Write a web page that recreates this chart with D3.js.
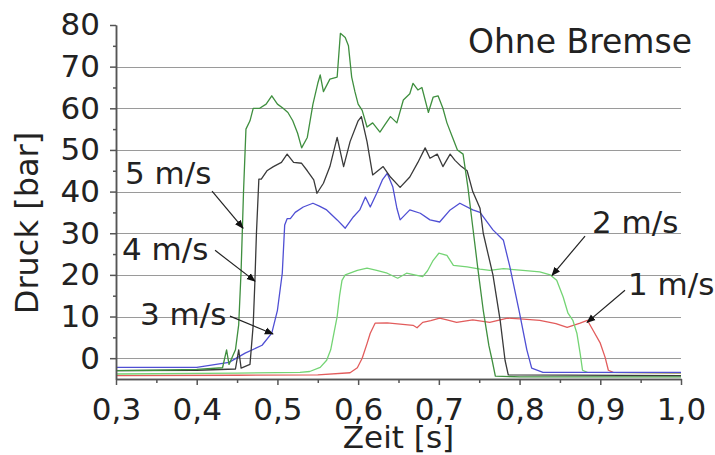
<!DOCTYPE html>
<meta charset="utf-8">
<style>
body { margin: 0; background: #fff; }
svg text { font-family: "DejaVu Sans", sans-serif; fill: #222; }
.grid line { stroke: #9a9a9a; stroke-width: 1px; shape-rendering: crispEdges; }
.grid path { display: none; }
.axis path, .axis line { stroke: #555; stroke-width: 1.5px; }
.axis text { font-size: 31px; }
.line { fill: none; stroke-width: 1.3px; stroke-linejoin: round; }
.label { font-size: 31px; }
</style>
<body>
<script src="https://d3js.org/d3.v7.min.js"></script>
<script>

// tick values
var xTicks = [0.3, 0.4, 0.5, 0.6, 0.7, 0.8, 0.9, 1.0];
var xMinor = [0.35, 0.45, 0.55, 0.65, 0.75, 0.85, 0.95];
var yTicks = [0, 10, 20, 30, 40, 50, 60, 70, 80];
var yMinor = [5, 15, 25, 35, 45, 55, 65, 75];
var gridTicks = [0, 10, 20, 30, 40, 50, 60, 70];

// pressure curves, [time s, pressure bar]
var v1 = [[0.30,-4.2],[0.45,-4.1],[0.55,-4],[0.59,-3.5],[0.599,-2.3],[0.605,0],[0.611,3.5],[0.615,6],[0.621,8.4],
  [0.636,8.5],[0.652,8.2],[0.668,7.9],[0.673,7.3],[0.68,8.6],[0.69,9],[0.701,9.6],[0.71,9.2],[0.722,8.6],[0.742,9.2],
  [0.763,8.6],[0.785,9.6],[0.805,9.4],[0.825,9.1],[0.845,8.3],[0.859,7.4],[0.875,8.4],[0.884,9.1],[0.891,6.7],
  [0.90,3.6],[0.906,0.2],[0.91,-2.9],[0.916,-3.4],[1.0,-3.6]];

var v2 = [[0.30,-3.8],[0.45,-3.6],[0.528,-3.4],[0.54,-3.2],[0.553,-2.2],[0.561,-0.5],[0.566,2],[0.57,6],[0.574,10],
  [0.577,15],[0.58,18.7],[0.584,20],[0.599,21.1],[0.611,21.6],[0.623,21.1],[0.636,20.4],[0.649,19.2],[0.66,20.4],
  [0.67,20],[0.68,19.6],[0.686,21],[0.693,23.5],[0.70,25.2],[0.71,24.7],[0.718,22.3],[0.735,21.9],[0.751,21.4],
  [0.763,21.1],[0.78,21.5],[0.804,21.1],[0.825,20.7],[0.838,20],[0.846,18.7],[0.854,14.7],[0.86,10.8],[0.866,9.1],
  [0.871,6],[0.875,1.2],[0.878,-2.9],[0.884,-3.4],[1.0,-3.5]];

var v3 = [[0.30,-2.2],[0.40,-2.2],[0.44,-1],[0.46,1.2],[0.481,3.1],[0.493,6],[0.50,11.5],[0.506,20.4],[0.509,32],
  [0.512,33.5],[0.516,33.5],[0.522,35],[0.532,36.3],[0.544,37.2],[0.552,36.5],[0.561,35.6],[0.574,33.2],[0.584,31.2],
  [0.594,33.9],[0.602,35.6],[0.609,38.7],[0.615,36.3],[0.623,39.6],[0.630,42.8],[0.636,44.4],[0.643,41.1],[0.648,36],
  [0.652,33.2],[0.664,35.6],[0.677,34.8],[0.689,33.2],[0.701,32.7],[0.714,35.6],[0.726,37.2],[0.742,35.6],[0.751,35],
  [0.767,30.8],[0.78,28.3],[0.788,21.9],[0.80,10.8],[0.809,2],[0.815,-2.4],[0.829,-3.4],[1.0,-3.4]];

var v4 = [[0.30,-3],[0.40,-2.9],[0.448,-2.6],[0.452,2],[0.455,-2.4],[0.466,-1.5],[0.470,8],[0.472,18],[0.474,30],
  [0.477,43],[0.48,43],[0.487,45],[0.495,46],[0.505,47],[0.512,49],[0.52,47],[0.53,46.8],[0.537,45],[0.545,42.8],
  [0.549,39.6],[0.557,42],[0.565,46],[0.574,53],[0.582,46],[0.59,52],[0.60,57],[0.604,58],[0.611,52],[0.618,44],
  [0.631,46],[0.64,43.5],[0.652,41],[0.664,43.5],[0.674,47],[0.683,50.5],[0.689,48],[0.698,49],[0.705,46],
  [0.714,49],[0.72,47.5],[0.728,46],[0.735,45],[0.742,40],[0.751,36],[0.755,30],[0.761,25],[0.767,20],[0.776,9],
  [0.782,-0.5],[0.786,-4],[1.0,-4.2]];

var v5 = [[0.30,-3],[0.35,-2.9],[0.40,-2.7],[0.432,-2.3],[0.437,2],[0.44,-1.5],[0.448,2],[0.452,8],[0.455,21],
  [0.458,40],[0.461,55],[0.466,57],[0.47,60],[0.478,60],[0.486,61],[0.493,63],[0.50,61],[0.507,60],[0.513,59],
  [0.519,57],[0.525,54],[0.530,50.5],[0.537,53],[0.544,61],[0.550,66],[0.553,68],[0.557,64],[0.565,67],[0.574,67.5],
  [0.578,78],[0.584,77],[0.588,75],[0.592,67.5],[0.596,64],[0.600,61],[0.605,59.5],[0.611,55.5],[0.618,56.5],
  [0.627,54.3],[0.633,56],[0.640,58],[0.648,56.5],[0.656,62],[0.664,63.5],[0.668,66],[0.674,64.4],[0.679,65],
  [0.687,59],[0.693,62.7],[0.699,63],[0.705,60],[0.71,56.5],[0.717,53],[0.723,50],[0.73,49],[0.736,41],[0.742,31.5],
  [0.748,22],[0.755,11.5],[0.762,3],[0.766,-0.5],[0.770,-4.3],[0.80,-4.5],[1.0,-4.5]];

var seriesNames = ["1 m/s", "2 m/s", "3 m/s", "4 m/s", "5 m/s"];
var seriesData = [v1, v2, v3, v4, v5];
var seriesColors = ["#e25c5c", "#74d474", "#4f4fd4", "#3a3a3a", "#3f8f3f"];

// label anchor and arrow (from -> to), data units
var labelPos = [[0.9344, 15.1], [0.8898, 30.0], [0.3297, 7.9], [0.3074, 23.5], [0.3112, 41.8]];
var arrowFrom = [[0.9306, 16.3], [0.8811, 29.3], [0.4412, 10.1], [0.4227, 25.9], [0.419, 40.1]];
var arrowTo = [[0.8836, 8.6], [0.8402, 19.9], [0.4945, 5.8], [0.4722, 18.5], [0.4574, 31.2]];

var W = 715, H = 455;
var x = d3.scaleLinear().domain([0.3, 1.0]).range([116, 681]);
var y = d3.scaleLinear().domain([-5, 80]).range([379, 25]);

var de = d3.formatLocale({decimal: ",", thousands: ".", grouping: [3], currency: ["", " €"]});
var fmt = de.format(".1f");

var svg = d3.select("body").append("svg")
    .attr("width", W)
    .attr("height", H);

svg.append("rect").attr("width", W).attr("height", H).attr("fill", "#fff");

svg.append("defs").append("marker")
    .attr("id", "head")
    .attr("viewBox", "0 0 10 10")
    .attr("refX", 9).attr("refY", 5)
    .attr("markerWidth", 9).attr("markerHeight", 9)
    .attr("markerUnits", "userSpaceOnUse")
    .attr("orient", "auto")
  .append("path")
    .attr("d", "M0,1 L10,5 L0,9 Z")
    .attr("fill", "#111");

// gridlines
svg.append("g")
    .attr("class", "grid")
    .attr("transform", "translate(" + x(0.3) + ",0)")
    .call(d3.axisLeft(y).tickValues(gridTicks).tickSize(-(x(1.0) - x(0.3))).tickFormat(""));

// curves
var line = d3.line()
    .x(function(d) { return x(d[0]); })
    .y(function(d) { return y(d[1]); });

seriesData.forEach(function(s, i) {
  svg.append("path")
      .datum(s)
      .attr("class", "line")
      .attr("stroke", seriesColors[i])
      .attr("d", line);
});

// axes
svg.append("g")
    .attr("class", "axis")
    .attr("transform", "translate(" + x(0.3) + ",0)")
    .call(d3.axisLeft(y).tickValues(yMinor).tickSize(3).tickSizeOuter(0).tickFormat(""));
svg.append("g")
    .attr("class", "axis")
    .attr("transform", "translate(" + x(0.3) + ",0)")
    .call(d3.axisLeft(y).tickValues(yTicks).tickSize(6).tickSizeOuter(0).tickPadding(10));

svg.append("g")
    .attr("class", "axis")
    .attr("transform", "translate(0," + y(-5) + ")")
    .call(d3.axisBottom(x).tickValues(xMinor).tickSize(4).tickSizeOuter(0).tickFormat(""));
svg.append("g")
    .attr("class", "axis")
    .attr("transform", "translate(0," + y(-5) + ")")
    .call(d3.axisBottom(x).tickValues(xTicks).tickSize(6).tickSizeOuter(0).tickPadding(13).tickFormat(fmt));

svg.selectAll(".axis text").attr("fill", "#222");

// axis titles
svg.append("text")
    .attr("class", "label")
    .attr("text-anchor", "middle")
    .attr("x", (x(0.3) + x(1.0)) / 2)
    .attr("y", 448)
    .text("Zeit [s]");

svg.append("text")
    .attr("class", "label")
    .attr("text-anchor", "middle")
    .attr("transform", "translate(38,223) rotate(-90)")
    .style("font-size", "32px")
    .text("Druck [bar]");

svg.append("text")
    .attr("text-anchor", "end")
    .attr("x", 692)
    .attr("y", 53)
    .style("font-size", "33px")
    .text("Ohne Bremse");

// speed labels with arrows
seriesNames.forEach(function(n, i) {
  svg.append("text")
      .attr("class", "label")
      .attr("x", x(labelPos[i][0]))
      .attr("y", y(labelPos[i][1]))
      .text(n);
  svg.append("line")
      .attr("x1", x(arrowFrom[i][0])).attr("y1", y(arrowFrom[i][1]))
      .attr("x2", x(arrowTo[i][0])).attr("y2", y(arrowTo[i][1]))
      .attr("stroke", "#222")
      .attr("stroke-width", 1.2)
      .attr("marker-end", "url(#head)");
});

</script>
</body>
